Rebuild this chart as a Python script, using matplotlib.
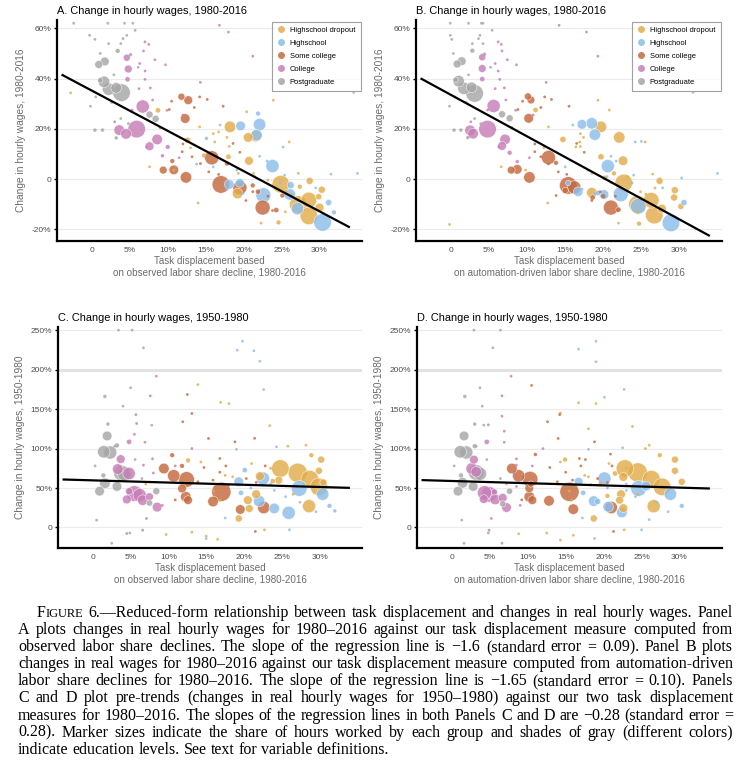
import numpy as np
import matplotlib
matplotlib.use("Agg")
import matplotlib.pyplot as plt
from matplotlib.lines import Line2D

groups = ["Highschool dropout", "Highschool", "Some college", "College", "Postgraduate"]
colors = ["#E2AC4C", "#8CBEE9", "#C4693D", "#C67EB6", "#A6A6A6"]

# (x = task displacement %, y = wage change %, share of hours)
# ---------- panel A: observed measure, 1980-2016 ----------
A_dropout = [(8.7, 27.4, .36), (12.6, 15.5, .5), (18.2, 20.8, 1.7), (20.6, 16.6, 1.2), (21.6, 17.1, 1.7),
             (20.7, 7.3, 1.0), (19.2, -5.7, 1.45), (24.9, -2.0, 4.0), (28.7, -0.7, .65), (30.3, -4.2, .65),
             (27.2, -10.1, 4.0), (28.6, -8.3, 3.2), (28.6, -14.6, 4.0), (30.0, -11.3, 1.0), (29.9, -7.0, .5),
             (27.4, -3.0, .25), (24.6, -17.2, .25), (18.0, 8.9, .36), (14.8, 9.4, .25),
             (-2.8, 34.3, .1), (7.6, 4.9, .1), (10.8, 3.6, .1), (14.2, 20.8, .1), (16.0, 18.1, .1),
             (16.7, 18.8, .1), (17.8, 16.6, .1), (18.1, 13.0, .1), (19.3, 2.3, .1), (21.3, 2.3, .1),
             (23.2, -0.4, .1), (25.6, -5.0, .1), (26.3, -6.0, .1), (27.2, 2.3, .1), (26.0, 14.8, .1),
             (23.9, 31.4, .1), (16.2, 14.8, .1), (20.4, 26.8, .1), (14.0, -9.5, .1), (22.3, -17.5, .1),
             (13.0, 12.5, .1), (25.5, -13.0, .1)]
A_high = [(19.6, 21.2, 1.2), (22.1, 21.7, 2.0), (21.7, 17.5, 1.7), (23.8, 5.2, 2.25), (18.1, -2.1, 1.2),
          (19.5, -1.5, 1.0), (22.6, -6.4, 2.9), (26.1, -6.1, 1.7), (26.2, -2.4, .65), (27.1, -11.7, 2.0),
          (30.4, -17.2, 4.0), (31.2, -9.3, .5), (31.9, -13.2, .25), (21.9, 26.1, .25), (15.1, 16.2, .16),
          (16.9, 21.5, .1), (23.1, 7.2, .1), (25.4, 1.6, .1), (25.2, 12.8, .1), (31.5, 2.0, .1),
          (35.0, 2.3, .1), (19.1, 3.6, .1), (21.5, 1.0, .1), (22.1, 9.1, .1), (16.0, 4.9, .1),
          (19.9, -5.7, .1), (34.5, 34.5, .1), (29.5, -3.5, .1), (24.8, -1.5, .1), (13.8, 6.0, .1),
          (17.8, -4.0, .1)]
A_some = [(11.8, 32.8, .65), (12.7, 31.4, 1.0), (12.3, 24.1, 1.2), (15.8, 8.5, 2.6), (9.4, 3.6, .8),
          (10.8, 3.7, 1.2), (12.4, 0.7, 1.7), (17.0, -2.1, 4.0), (19.5, -3.4, 2.6), (22.5, -11.3, 2.9),
          (24.3, -12.3, .36), (21.9, -5.0, .36), (21.2, -2.5, .25), (25.1, -6.5, .25), (10.6, 7.2, .25),
          (17.8, 6.2, .25),
          (10.2, 27.7, .1), (10.5, 31.0, .1), (14.2, 32.7, .1), (15.2, 31.7, .1), (11.9, 10.9, .1),
          (13.2, 8.9, .1), (14.3, 6.2, .1), (15.4, 2.9, .1), (21.2, -5.0, .1), (23.2, -6.8, .1),
          (16.7, 1.9, .1), (18.6, 14.2, .1), (19.5, 10.7, .1), (13.5, 28.5, .1), (12.0, 14.0, .1),
          (9.0, 20.5, .1), (17.3, 29.0, .1), (23.8, -12.5, .1), (20.3, -8.5, .1)]
A_college = [(4.6, 48.3, .65), (4.8, 43.8, .8), (4.7, 39.7, .36), (6.7, 28.9, 2.25), (3.6, 19.5, 1.45),
             (4.5, 18.0, 1.45), (5.9, 19.9, 4.0), (8.6, 15.8, 1.45), (7.6, 13.1, 1.0), (10.0, 12.8, .25),
             (9.3, 9.3, .16),
             (7.0, 54.6, .1), (7.5, 53.6, .1), (6.8, 51.0, .1), (6.3, 46.0, .1), (7.0, 43.0, .1),
             (7.0, 39.7, .1), (7.7, 36.3, .1), (16.8, 61.2, .1), (21.2, 48.9, .1), (9.9, 27.4, .1),
             (7.2, 12.8, .1), (8.0, 31.5, .1), (5.3, 27.5, .1), (3.0, 22.8, .1), (6.2, 36.0, .1),
             (8.3, 47.5, .1), (9.7, 45.5, .1), (12.0, 25.5, .1), (11.5, 8.5, .1), (14.3, 38.5, .1),
             (18.0, 58.5, .1)]
A_post = [(0.9, 45.6, .8), (1.7, 46.8, 1.0), (1.6, 38.7, 1.7), (2.2, 35.8, 2.0), (3.2, 36.3, 1.45),
          (3.9, 34.4, 4.0), (1.1, 39.3, .36), (7.6, 25.7, .65), (8.4, 24.0, .65), (3.4, 51.0, .25),
          (5.1, 49.5, .16), (0.4, 19.5, .16), (1.4, 19.5, .16), (3.2, 16.4, .16),
          (-2.4, 62.0, .1), (2.1, 62.0, .1), (4.3, 62.0, .1), (5.4, 62.0, .1), (4.6, 57.2, .1),
          (4.1, 55.9, .1), (5.7, 59.2, .1), (-0.3, 57.2, .1), (0.4, 55.6, .1), (2.2, 53.9, .1),
          (3.8, 53.9, .1), (1.1, 50.0, .1), (0.5, 32.7, .1), (3.8, 24.1, .1), (4.8, 22.1, .1),
          (2.6, 30.5, .1), (-0.2, 29.0, .1), (6.1, 44.5, .1), (2.9, 41.5, .1)]

# ---------- panel B: automation-driven measure, 1980-2016 ----------
B_dropout = [(11.1, 27.5, .36), (14.7, 15.8, .5), (19.7, 20.8, 1.7), (22.1, 16.6, 1.7), (22.6, 7.3, 1.2),
             (22.7, -1.5, 4.0), (18.5, -5.4, 1.45), (24.5, -10.0, 4.0), (26.3, -8.4, 3.2), (26.7, -14.3, 4.0),
             (27.7, -11.7, 1.0), (27.4, -0.7, .65), (29.4, -4.4, .65), (29.3, -7.3, .65), (30.2, -10.8, .5),
             (19.7, 8.9, .5), (21.4, 2.3, .25), (24.7, -17.7, .25), (20.2, 0.5, .36),
             (-0.2, -18.0, .1), (6.6, 4.9, .1), (9.8, 3.6, .1), (12.8, 20.8, .1), (17.0, 18.1, .1),
             (16.4, 12.8, .1), (17.4, 16.6, .1), (17.0, 13.0, .1), (18.5, 2.3, .1), (21.1, -1.5, .1),
             (23.2, 1.0, .1), (24.9, -5.0, .1), (25.6, -6.0, .1), (26.8, -3.5, .1), (25.5, 14.8, .1),
             (19.3, 31.4, .1), (16.9, 14.8, .1), (20.8, 27.5, .1), (12.7, -9.5, .1), (22.0, -17.5, .1),
             (12.2, 12.5, .1), (24.5, -13.0, .1), (26.5, 2.0, .1)]
B_high = [(17.2, 21.8, 1.2), (18.5, 22.2, 1.7), (18.9, 17.7, 1.7), (20.6, 5.2, 2.25), (16.7, -5.0, 1.2),
          (20.1, -6.1, 1.2), (22.3, -6.0, 2.9), (24.6, -10.8, 3.2), (28.9, -17.4, 4.0), (30.6, -9.3, .5),
          (15.4, -1.5, .36), (19.3, -5.5, .36),
          (16.0, 21.5, .1), (21.7, 7.2, .1), (24.0, 1.6, .1), (24.2, 14.8, .1), (30.3, 0.5, .1),
          (35.0, 2.3, .1), (18.0, 3.6, .1), (20.5, 1.0, .1), (21.0, 9.1, .1), (15.0, 4.9, .1),
          (18.9, -5.7, .1), (31.8, 34.5, .1), (27.8, -3.5, .1), (23.8, -1.5, .1), (12.8, 6.0, .1),
          (17.2, -4.0, .1), (25.0, 15.0, .1)]
B_some = [(10.1, 32.9, .65), (10.5, 31.5, .8), (10.2, 24.2, 1.2), (12.8, 8.6, 2.6), (7.9, 3.6, .8),
          (8.7, 3.9, 1.2), (10.3, 0.7, 1.7), (15.4, -2.5, 4.0), (16.2, -3.3, 2.25), (21.0, -11.3, 2.9),
          (22.0, -12.1, .36), (18.6, -7.3, .36), (20.0, -6.8, .25), (13.8, 6.5, .25), (15.0, -4.5, .5),
          (8.8, 27.7, .1), (9.4, 31.0, .1), (12.3, 32.7, .1), (13.2, 31.7, .1), (11.0, 10.9, .1),
          (11.8, 8.9, .1), (12.8, 6.2, .1), (14.1, 2.9, .1), (19.6, -5.0, .1), (21.6, -6.8, .1),
          (15.2, 1.9, .1), (16.5, 14.2, .1), (17.5, 10.7, .1), (11.8, 28.5, .1), (11.0, 14.0, .1),
          (8.0, 20.5, .1), (15.5, 29.0, .1), (21.9, -12.5, .1), (18.5, -8.5, .1), (13.8, -6.5, .1)]
B_college = [(4.1, 48.5, .65), (4.1, 44.0, .8), (4.1, 39.8, .36), (5.6, 29.1, 2.25), (2.5, 19.4, 1.45),
             (2.9, 18.1, 1.45), (4.8, 19.9, 4.0), (7.1, 15.8, 1.45), (6.7, 13.2, 1.0), (7.7, 10.5, .25),
             (8.7, 7.0, .16),
             (6.2, 54.6, .1), (6.6, 53.6, .1), (6.7, 51.0, .1), (5.8, 46.0, .1), (6.2, 43.0, .1),
             (6.4, 39.7, .1), (7.0, 36.3, .1), (14.2, 61.2, .1), (19.3, 48.9, .1), (8.5, 27.4, .1),
             (6.3, 12.8, .1), (7.2, 31.5, .1), (4.8, 27.5, .1), (2.6, 22.8, .1), (5.8, 36.0, .1),
             (7.4, 47.5, .1), (8.6, 45.5, .1), (10.8, 25.5, .1), (10.3, 8.5, .1), (12.5, 38.5, .1),
             (17.8, 58.5, .1)]
B_post = [(0.8, 45.8, .8), (1.4, 46.9, 1.0), (1.0, 39.0, 1.7), (1.7, 36.1, 2.0), (2.7, 36.5, 1.45),
          (3.1, 34.1, 4.0), (0.6, 39.5, .36), (6.7, 25.8, .65), (7.7, 24.2, .65), (2.8, 51.1, .25),
          (4.4, 49.7, .16), (0.4, 19.5, .16), (2.2, 16.5, .16), (1.3, 19.5, .16),
          (-0.1, 62.0, .1), (2.3, 62.0, .1), (4.0, 62.0, .1), (4.2, 62.0, .1), (5.4, 59.2, .1),
          (3.8, 57.2, .1), (3.6, 55.9, .1), (-0.1, 57.2, .1), (0.1, 55.6, .1), (2.8, 53.9, .1),
          (4.2, 53.9, .1), (0.3, 50.0, .1), (0.5, 32.7, .1), (3.1, 24.1, .1), (3.9, 22.1, .1),
          (2.0, 30.5, .1), (-0.2, 29.0, .1), (5.2, 44.5, .1), (2.3, 41.5, .1)]

# ---------- panel C: observed measure, 1950-1980 ----------
C_dropout = [(12.6, 85, .25), (20.5, 34.6, 1.0), (20.7, 24, .8), (21.6, 42.2, 1.0), (19.3, 11.4, .65),
             (24.8, 74.7, 4.0), (24.6, 60, .8), (27.1, 69.3, 4.8), (28.7, 61.2, 4.0), (29.9, 51.5, 4.0),
             (30.2, 86, .65), (29.9, 71.8, .65), (28.6, 27, 2.25), (30.5, 57, .65), (28.9, 91.6, .25),
             (22.1, 65, 1.0), (23.8, 58.7, .36),
             (13.9, 181, .1), (16.9, 158.4, .1), (18.5, 64.2, .1), (16.8, 34.6, .1), (28.2, 104.3, .1),
             (9.7, -8.9, .1), (13.1, -6, .1), (15.0, -11, .1), (17.5, 66, .1), (14.3, 83, .1),
             (16.0, 46, .1), (23.5, 75, .1), (25.8, 103, .1), (18.0, 157, .1), (21.0, 81, .1),
             (26.5, 42, .1), (16.5, -15, .1), (23.4, 129, .1), (22.7, -3, .1), (7.0, 55, .1)]
C_high = [(19.3, 57.9, 1.2), (22.5, 62, 2.25), (22.0, 33.4, 1.7), (24.0, 24.1, 1.45), (25.9, 18.6, 2.25),
          (27.3, 49.4, 3.2), (30.4, 42.2, 2.0), (19.6, 43.9, .36), (20.1, 72.6, .36), (31.3, 27.4, .25),
          (32.0, 21, .16),
          (19.1, 224.7, .1), (19.8, 236, .1), (21.3, 223.8, .1), (22.1, 210.7, .1), (22.6, 174.8, .1),
          (24.3, 102.2, .1), (26.0, -3, .1), (15.0, -14, .1), (27.4, 32, .1), (29.5, 20, .1),
          (25.5, 39, .1), (23.5, 55, .1), (19.0, 99, .1), (20.9, 50, .1), (17.5, 12, .1),
          (24.0, 47, .1)]
C_some = [(9.4, 74.7, 1.45), (10.7, 65.5, 2.0), (12.4, 60.8, 3.2), (11.8, 49.4, 1.0), (12.3, 38.9, 1.45),
          (12.6, 34.6, 1.0), (15.9, 32.9, 1.45), (17.0, 45.2, 4.8), (19.5, 22.8, 1.2), (22.6, 25.3, 2.0),
          (10.5, 91.6, .25), (11.8, 78, .25),
          (11.9, 133.9, .1), (12.5, 168.5, .1), (13.1, 144.4, .1), (15.3, 112.8, .1), (16.8, 87.4, .1),
          (18.8, 108.5, .1), (21.4, 113, .1), (14.7, 76, .1), (17.6, 78, .1), (13.9, 58, .1),
          (15.9, 60, .1), (18.0, 54, .1), (20.3, 62, .1), (21.6, 57, .1), (22.8, 78, .1),
          (21.5, -5, .1), (16.8, 70, .1), (10.9, 35, .1)]
C_college = [(4.8, 108.5, .36), (3.7, 86.6, 1.0), (3.3, 74, 1.45), (4.8, 68.4, 2.0), (5.5, 43, 3.2),
             (6.2, 41, 2.25), (6.6, 34.6, 1.45), (4.5, 35.5, 1.0), (7.5, 39, .8), (8.5, 25.8, 1.2),
             (4.8, 46, .65),
             (8.4, 191.7, .1), (7.6, 166.8, .1), (5.7, 143, .1), (5.8, 131.8, .1), (6.7, 79, .1),
             (7.1, 11.4, .1), (6.6, -3.4, .1), (4.5, -7.6, .1), (6.9, 108, .1), (7.9, 87, .1),
             (8.0, 69, .1), (5.5, 118, .1), (10.9, 78, .1), (13.1, 100, .1), (9.2, 28, .1)]
C_post = [(1.9, 116, 1.2), (1.45, 95.9, 2.0), (2.3, 95, 2.25), (3.2, 104, .25), (1.6, 56, 1.45),
          (0.9, 46, 1.2), (3.2, 52, 1.2), (3.8, 69, 3.2), (4.2, 68, 2.6), (8.4, 46, .65),
          (7.5, 31, .5), (1.6, 166, .16), (2.0, 131, .16), (1.4, 66, .25),
          (3.4, 250, .1), (5.2, 250, .1), (6.7, 227.6, .1), (5.0, 177, .1), (4.0, 153.7, .1),
          (7.8, 129.6, .1), (0.3, 78, .1), (0.5, 9.3, .1), (2.5, -20, .1), (4.9, -7, .1),
          (6.5, 62, .1), (5.6, 86, .1), (2.9, 103, .1)]

# ---------- panel D: automation-driven measure, 1950-1980 ----------
D_dropout = [(14.9, 86, .25), (18.7, 11.4, .65), (22.1, 34.6, .8), (22.6, 24.5, 1.0), (22.3, 42.2, 1.0),
             (22.8, 74.7, 4.0), (22.6, 64, 1.0), (24.5, 69.7, 4.8), (26.3, 61.2, 4.0), (27.7, 51.5, 4.0),
             (29.4, 86, .65), (29.4, 71.8, .65), (26.6, 27, 2.25), (30.3, 57.9, .65), (27.4, 91.6, .25),
             (21.5, 68.4, .36), (19.6, 55, .25), (20.5, 40, .25),
             (14.3, 145, .1), (16.7, 158, .1), (18.0, 64.2, .1), (15.8, 34.6, .1), (26.0, 104.3, .1),
             (8.8, -8, .1), (12.5, -7, .1), (14.3, -16, .1), (17.5, 66, .1), (14.3, 83, .1),
             (15.5, 46, .1), (23.0, 75, .1), (25.5, 100, .1), (19.0, 157, .1), (20.7, 81, .1),
             (24.5, 42, .1), (16.0, -10, .1), (23.8, 128, .1), (22.7, -3, .1), (7.2, 55, .1),
             (18.0, 125, .1)]
D_high = [(16.7, 57.9, 1.0), (20.1, 62, 2.25), (20.6, 26.2, 1.45), (22.4, 19, 1.45), (18.7, 33.4, 1.45),
          (24.6, 49.4, 3.2), (28.8, 42.2, 2.0), (17.3, 43.9, .36), (30.3, 27.4, .25), (25.6, 52.5, 1.2),
          (19.2, 33, .5),
          (16.7, 226, .1), (19.0, 236, .1), (19.0, 210, .1), (20.1, 165, .1), (22.7, 175, .1),
          (22.5, 101, .1), (25.0, -3, .1), (18.8, -14, .1), (26.9, 32, .1), (28.5, 20, .1),
          (24.2, 39, .1), (23.0, 55, .1), (18.0, 99, .1), (20.5, 50, .1), (17.2, 12, .1),
          (23.0, 47, .1), (26.0, 10, .1)]
D_some = [(7.9, 74.7, 1.45), (8.8, 65.5, 2.0), (10.3, 61.2, 3.2), (10.2, 49.8, 1.0), (10.2, 38.9, 1.45),
          (10.6, 34.6, 1.0), (12.8, 33.8, 1.45), (15.5, 45.2, 4.8), (16.0, 23.2, 1.45), (21.0, 25.3, 2.0),
          (11.0, 92.5, .16), (10.4, 55, .5),
          (10.5, 180, .1), (14.2, 143, .1), (12.6, 134, .1), (14.0, 112.8, .1), (16.8, 87.4, .1),
          (17.6, 86, .1), (18.8, 108.5, .1), (20.9, 93, .1), (12.9, 76, .1), (17.0, 78, .1),
          (13.9, 58, .1), (15.9, 60, .1), (18.3, 54, .1), (19.2, 62, .1), (20.5, 57, .1),
          (21.1, 78, .1), (21.3, -5, .1), (15.0, 70, .1), (9.2, 35, .1)]
D_college = [(4.6, 108.5, .36), (2.9, 86, 1.0), (2.6, 74.7, 1.7), (3.2, 70.5, 1.45), (4.3, 44, 2.6),
             (4.9, 42, 3.2), (5.7, 35.5, 1.45), (4.2, 36, 1.0), (6.7, 37.6, 1.0), (7.2, 25.3, 1.2),
             (5.6, 45, .5),
             (7.8, 191.7, .1), (6.6, 166.8, .1), (6.6, 141, .1), (6.9, 122, .1), (8.5, 79, .1),
             (5.2, 11.4, .1), (4.9, -3.4, .1), (6.6, -20, .1), (6.9, 108, .1), (8.5, 87, .1),
             (8.2, 69, .1), (4.8, 130, .1), (10.6, 78, .1), (12.0, 100, .1), (9.0, 28, .1),
             (8.5, 52, .1)]
D_post = [(1.6, 116, 1.2), (1.1, 95.9, 2.0), (1.9, 95, 2.25), (3.0, 103, .25), (1.4, 56.6, 1.45),
          (0.8, 46, 1.2), (2.8, 52, 1.2), (3.2, 69.7, 3.2), (3.7, 68, 2.25), (7.6, 46, .5),
          (6.7, 30, .5), (1.7, 166, .16), (3.0, 131, .16), (1.2, 66, .25),
          (2.9, 250, .1), (6.4, 250, .1), (5.4, 227.6, .1), (3.7, 177, .1), (4.0, 153.7, .1),
          (4.2, 129.6, .1), (0.3, 78, .1), (1.3, 9.3, .1), (1.6, -20, .1), (4.8, -7, .1),
          (6.4, 62, .1), (4.6, 86, .1), (3.2, 103, .1)]

panel_points = [[A_dropout, A_high, A_some, A_college, A_post],
                [B_dropout, B_high, B_some, B_college, B_post],
                [C_dropout, C_high, C_some, C_college, C_post],
                [D_dropout, D_high, D_some, D_college, D_post]]

titles = ["A. Change in hourly wages, 1980-2016", "B. Change in hourly wages, 1980-2016",
          "C. Change in hourly wages, 1950-1980", "D. Change in hourly wages, 1950-1980"]
xlabels = ["Task displacement based\non observed labor share decline, 1980-2016",
           "Task displacement based\non automation-driven labor share decline, 1980-2016"] * 2
ylabels = ["Change in hourly wages, 1980-2016"] * 2 + ["Change in hourly wages, 1950-1980"] * 2
slopes = [-1.60, -1.65, -0.28, -0.28]
intercepts = [35.2, 33.5, 59.7, 58.9]
line_x = [-4.0, 34.0]
xticks = [0, 5, 10, 15, 20, 25, 30]
yticks_top = [-20, 0, 20, 40, 60]
yticks_bot = [0, 50, 100, 150, 200, 250]

caption = [
    "FIGURE 6.—Reduced-form relationship between task displacement and changes in real hourly wages. Panel",
    "A plots changes in real hourly wages for 1980–2016 against our task displacement measure computed from",
    "observed labor share declines. The slope of the regression line is −1.6 (standard error = 0.09). Panel B plots",
    "changes in real wages for 1980–2016 against our task displacement measure computed from automation-driven",
    "labor share declines for 1980–2016. The slope of the regression line is −1.65 (standard error = 0.10). Panels",
    "C and D plot pre-trends (changes in real hourly wages for 1950–1980) against our two task displacement",
    "measures for 1980–2016. The slopes of the regression lines in both Panels C and D are −0.28 (standard error =",
    "0.28). Marker sizes indicate the share of hours worked by each group and shades of gray (different colors)",
    "indicate education levels. See text for variable definitions.",
]

W, H = 749, 774
sans = ["Liberation Sans", "DejaVu Sans"]
serif = ["Liberation Serif", "DejaVu Serif"]
plt.rcParams["font.family"] = sans

fig = plt.figure(figsize=(W / 100, H / 100), dpi=100)
fig.patch.set_facecolor("white")

# axes rectangles in pixels: left, top, right, bottom
rects = [(57, 20, 362, 241), (416, 20, 722, 241), (58, 327, 362, 548), (417, 327, 722, 548)]


def pct(v, pos=None):
    return "0" if abs(v) < 1e-9 else f"{v:.0f}%"


for i, (l, t, r, b) in enumerate(rects):
    ax = fig.add_axes([l / W, 1 - b / H, (r - l) / W, (b - t) / H])
    top = i < 2
    xs, ys, hs, cs = [], [], [], []
    for g, pts in enumerate(panel_points[i]):
        arr = np.array(pts, dtype=float)
        xs.append(arr[:, 0]); ys.append(arr[:, 1]); hs.append(arr[:, 2])
        cs += [colors[g]] * len(arr)
    xs = np.concatenate(xs); ys = np.concatenate(ys); hs = np.concatenate(hs)
    cs = np.array(cs)
    order = np.argsort(-hs, kind="stable")
    ax.scatter(xs[order], ys[order], s=hs[order] * 40, c=cs[order], alpha=0.82,
               edgecolors="white", linewidths=np.where(hs[order] > 0.3, 0.4, 0.0), zorder=3)
    lx = np.array(line_x)
    ax.plot(lx, intercepts[i] + slopes[i] * lx, color="black", lw=1.6, zorder=4,
            solid_capstyle="butt")

    ax.set_xlim(-4.6, 35.6)
    if top:
        ax.set_ylim(-24.6, 63.3)
        yt = yticks_top
    else:
        ax.set_ylim(-26, 254)
        yt = yticks_bot
    ax.set_yticks(yt)
    ax.set_xticks(xticks)
    ax.yaxis.set_major_formatter(plt.FuncFormatter(pct))
    ax.xaxis.set_major_formatter(plt.FuncFormatter(pct))
    for v in yt:
        lw = 2.2 if v == 200 else 0.8
        col = "#E2E2E2" if v == 200 else "#EBEBEB"
        ax.axhline(v, color=col, lw=lw, zorder=1)
    for s in ["top", "right"]:
        ax.spines[s].set_visible(False)
    for s in ["left", "bottom"]:
        ax.spines[s].set_linewidth(1.6)
        ax.spines[s].set_color("black")
    ax.tick_params(axis="y", length=2.5, width=1.0, color="black", labelsize=6,
                   labelcolor="#4D4D4D", pad=1.5)
    ax.tick_params(axis="x", length=0, labelsize=6, labelcolor="#4D4D4D", pad=4.5)
    ax.set_title(titles[i], loc="left", fontsize=7.9, pad=4, color="black")
    ax.set_ylabel(ylabels[i], fontsize=7.3, color="#6B6B6B", labelpad=4)
    ax.set_xlabel(xlabels[i], fontsize=7.1, color="#6B6B6B", labelpad=1.5, linespacing=1.2)
    if top:
        handles = [Line2D([0], [0], marker="o", ls="", markersize=5.0, markerfacecolor=c,
                          markeredgecolor="none", alpha=0.85) for c in colors]
        leg = ax.legend(handles, groups, loc="upper right", bbox_to_anchor=(1.0, 1.0),
                        fontsize=5.4, frameon=True, fancybox=False, handletextpad=0.7,
                        labelspacing=0.75, borderpad=0.7, handlelength=1.0, borderaxespad=0.2)
        leg.get_frame().set_edgecolor("#8A8A8A")
        leg.get_frame().set_linewidth(0.8)

# ---------- caption with justified lines ----------
renderer = fig.canvas.get_renderer()


def text_w(s, size):
    t = fig.text(0, 0, s, fontsize=size, family=serif)
    w = t.get_window_extent(renderer).width
    t.remove()
    return w


def split_words(li, line, size):
    out = []
    for wi, word in enumerate(line.split(" ")):
        if li == 0 and wi == 0:
            out.append([("F", size), ("IGURE", size * 0.78)])
        else:
            out.append([(word, size)])
    return out


x_left, x_right, y0, dy, indent = 18, 733, 617, 17.1, 19
base = 10.0
sp = text_w("a a", base) - text_w("aa", base)
ratio = 0
for li, line in enumerate(caption[:-1]):
    segs = split_words(li, line, base)
    nat = sum(text_w(s, z) for sg in segs for s, z in sg) + sp * (len(segs) - 1)
    avail = x_right - x_left - (indent if li == 0 else 0)
    ratio = max(ratio, nat / avail)
cap_fs = base / ratio * 0.995
space_w = text_w("a a", cap_fs) - text_w("aa", cap_fs)

for li, line in enumerate(caption):
    segs = split_words(li, line, cap_fs)
    widths = [sum(text_w(s, z) for s, z in sg) for sg in segs]
    start = x_left + (indent if li == 0 else 0)
    if li < len(caption) - 1:
        gap = (x_right - start - sum(widths)) / (len(segs) - 1)
    else:
        gap = space_w
    x = start
    y = y0 + li * dy
    for sg, wd in zip(segs, widths):
        xx = x
        for s, z in sg:
            fig.text(xx / W, 1 - y / H, s, fontsize=z, family=serif, va="baseline", ha="left")
            xx += text_w(s, z)
        x += wd + gap

fig.savefig("out.png", dpi=100)
